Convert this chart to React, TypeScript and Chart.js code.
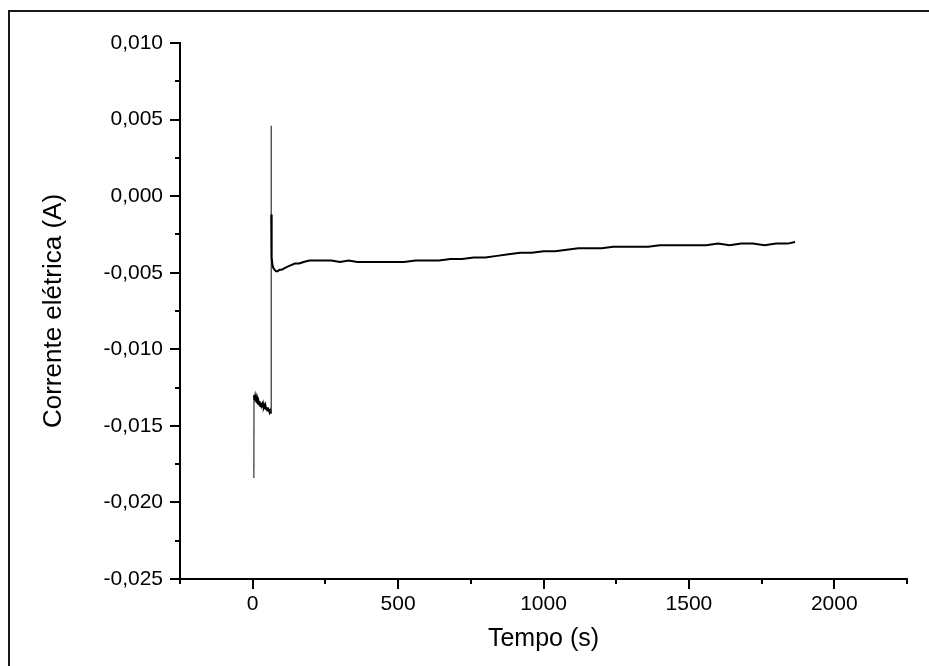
import { useEffect, useRef } from 'react';
import { Chart, registerables } from 'chart.js';

Chart.register(...registerables);

// Time (s)
const timeSeconds: number[] = [
  4, 4.5, 6, 8, 10, 12, 14, 16, 18, 20, 22, 24, 26, 28, 30, 32, 34, 36, 38, 40,
  42, 44, 46, 48, 50, 52, 54, 56, 58, 60, 62, 63, 63.5, 64, 64.5, 65, 66, 68,
  71, 75, 80, 86, 92, 100, 110, 120, 132, 145, 160, 175, 195, 215, 240, 270,
  300, 330, 360, 400, 440, 480, 520, 560, 600, 640, 680, 720, 760, 800, 840,
  880, 920, 960, 1000, 1040, 1080, 1120, 1160, 1200, 1240, 1280, 1320, 1360,
  1400, 1440, 1480, 1520, 1560, 1600, 1640, 1680, 1720, 1760, 1800, 1840, 1865,
];

// Electric current (A)
const currentAmps: number[] = [
  -0.0184, -0.0130, -0.0133, -0.0131, -0.0134, -0.0132, -0.0135, -0.0133,
  -0.0136, -0.0134, -0.0136, -0.0134, -0.0137, -0.0135, -0.0137, -0.0136,
  -0.0138, -0.0136, -0.0138, -0.0137, -0.0139, -0.0137, -0.0139, -0.0138,
  -0.0140, -0.0138, -0.0140, -0.0139, -0.0141, -0.0140, -0.0142, -0.0141,
  0.0046, -0.0012, -0.0020, -0.0032, -0.0040, -0.0045, -0.0047, -0.0048,
  -0.0049, -0.0049, -0.0048, -0.0048, -0.0047, -0.0046, -0.0045, -0.0044,
  -0.0044, -0.0043, -0.0042, -0.0042, -0.0042, -0.0042, -0.0043, -0.0042,
  -0.0043, -0.0043, -0.0043, -0.0043, -0.0043, -0.0042, -0.0042, -0.0042,
  -0.0041, -0.0041, -0.0040, -0.0040, -0.0039, -0.0038, -0.0037, -0.0037,
  -0.0036, -0.0036, -0.0035, -0.0034, -0.0034, -0.0034, -0.0033, -0.0033,
  -0.0033, -0.0033, -0.0032, -0.0032, -0.0032, -0.0032, -0.0032, -0.0031,
  -0.0032, -0.0031, -0.0031, -0.0032, -0.0031, -0.0031, -0.0030,
];

const xMin = -250;
const xMax = 2250;
const xStep = 250;
const xLabelEvery = 500;
const yMin = -0.025;
const yMax = 0.01;
const yStep = 0.0025;
const yLabelEvery = 0.005;

const xTitle = 'Tempo (s)';
const yTitle = 'Corrente elétrica (A)';

const FONT = "'Liberation Sans', Arial, sans-serif";

function isMajor(value: number, every: number): boolean {
  const r = value / every;
  return Math.abs(r - Math.round(r)) < 1e-6;
}

function formatCurrent(v: number): string {
  let r = Math.round(v * 1000) / 1000;
  if (Math.abs(r) < 1e-9) r = 0;
  return r.toFixed(3).replace('.', ',');
}

const axisTicks = {
  id: 'axisTicks',
  afterDraw(chart: any) {
    const ctx = chart.ctx as CanvasRenderingContext2D;
    const xs = chart.scales.x;
    const ys = chart.scales.y;
    const { left, bottom } = chart.chartArea;
    ctx.save();
    ctx.strokeStyle = '#000';
    ctx.lineWidth = 2;
    xs.ticks.forEach((t: any) => {
      const px = Math.round(xs.getPixelForValue(t.value));
      const len = isMajor(t.value, xLabelEvery) ? 10 : 5;
      ctx.beginPath();
      ctx.moveTo(px, bottom);
      ctx.lineTo(px, bottom + len);
      ctx.stroke();
    });
    ys.ticks.forEach((t: any) => {
      const py = Math.round(ys.getPixelForValue(t.value));
      const len = isMajor(t.value, yLabelEvery) ? 10 : 5;
      ctx.beginPath();
      ctx.moveTo(left, py);
      ctx.lineTo(left - len, py);
      ctx.stroke();
    });
    // outer frame of the figure
    ctx.strokeStyle = '#1a1a1a';
    ctx.lineWidth = 2;
    ctx.beginPath();
    ctx.moveTo(9, 680);
    ctx.lineTo(9, 11);
    ctx.lineTo(940, 11);
    ctx.stroke();
    ctx.restore();
  },
};

export default function App() {
  const canvasRef = useRef<HTMLCanvasElement | null>(null);

  useEffect(() => {
    const canvas = canvasRef.current;
    if (!canvas) return;
    const points = timeSeconds.map((t, i) => ({ x: t, y: currentAmps[i] }));
    const isJump = (ctx: any) => Math.abs(ctx.p1.parsed.y - ctx.p0.parsed.y) > 0.002;
    const chart = new Chart(canvas, {
      type: 'line',
      data: {
        datasets: [
          {
            data: points,
            borderColor: '#000',
            borderWidth: 2,
            pointRadius: 0,
            tension: 0,
            fill: false,
            segment: {
              borderWidth: (ctx: any) => (isJump(ctx) ? 1.2 : 2),
              borderColor: (ctx: any) => (isJump(ctx) ? '#333' : '#000'),
            },
          },
        ],
      },
      options: {
        animation: false,
        responsive: false,
        layout: { padding: { left: 0, right: 22, top: 43, bottom: 0 } },
        plugins: {
          legend: { display: false },
          tooltip: { enabled: false },
        },
        scales: {
          x: {
            type: 'linear',
            position: 'bottom',
            min: xMin,
            max: xMax,
            afterFit: (scale: any) => {
              scale.height = 87;
            },
            grid: {
              display: true,
              drawOnChartArea: false,
              drawTicks: true,
              tickLength: 10,
              tickColor: 'rgba(0,0,0,0)',
            },
            border: { display: true, color: '#000', width: 2 },
            ticks: {
              stepSize: xStep,
              autoSkip: false,
              maxRotation: 0,
              padding: 3,
              color: '#000',
              font: { family: FONT, size: 21 },
              callback: (v: any) => (isMajor(Number(v), xLabelEvery) ? String(Math.round(Number(v))) : ''),
            },
            title: {
              display: true,
              text: xTitle,
              color: '#000',
              font: { family: FONT, size: 25 },
              padding: { top: 0, bottom: 12 },
            },
          },
          y: {
            type: 'linear',
            position: 'left',
            min: yMin,
            max: yMax,
            afterFit: (scale: any) => {
              scale.width = 180;
            },
            grid: {
              display: true,
              drawOnChartArea: false,
              drawTicks: true,
              tickLength: 10,
              tickColor: 'rgba(0,0,0,0)',
            },
            border: { display: true, color: '#000', width: 2 },
            ticks: {
              stepSize: yStep,
              autoSkip: false,
              padding: 7,
              color: '#000',
              font: { family: FONT, size: 21 },
              callback: (v: any) => (isMajor(Number(v), yLabelEvery) ? formatCurrent(Number(v)) : ''),
            },
            title: {
              display: true,
              text: yTitle,
              color: '#000',
              font: { family: FONT, size: 26 },
              padding: { top: 38, bottom: 0 },
            },
          },
        },
      },
      plugins: [axisTicks],
    });
    return () => chart.destroy();
  }, []);

  return (
    <div style={{ position: 'absolute', left: 0, top: 0, width: 929, height: 666, background: '#fff' }}>
      <canvas ref={canvasRef} width={929} height={666} style={{ display: 'block' }} />
    </div>
  );
}
